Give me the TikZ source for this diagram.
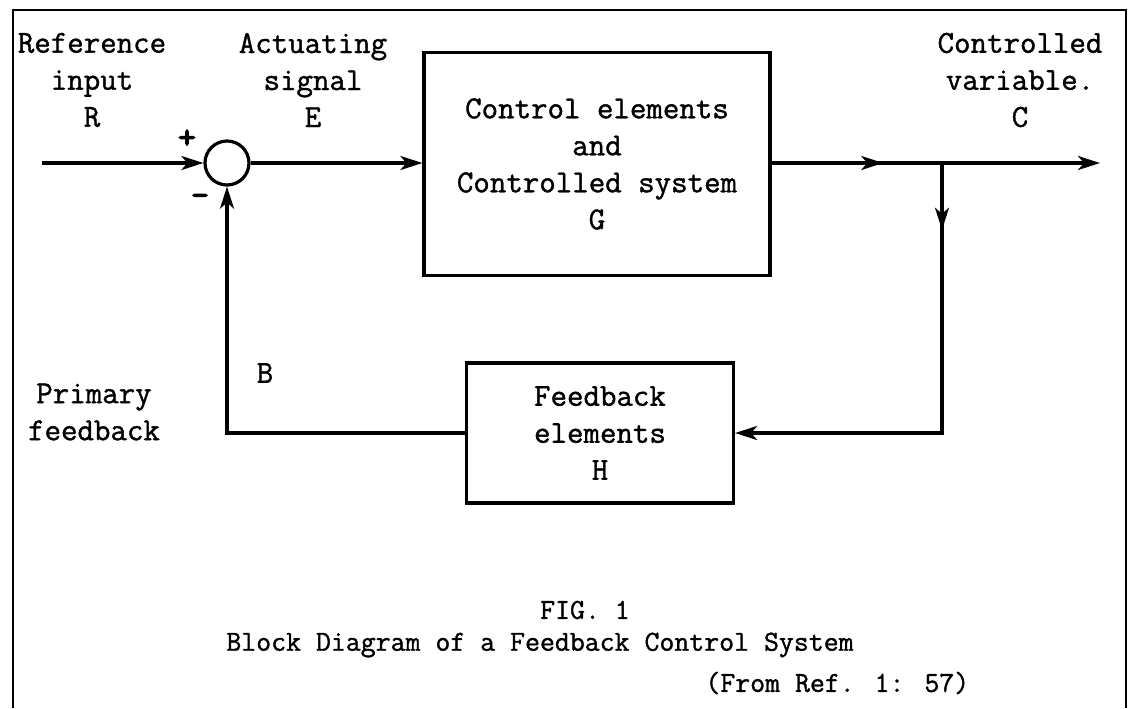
\documentclass[tikz,border=0pt]{standalone}
\usepackage{fontspec}
\newfontfamily\typew{Latin Modern Mono}[FakeBold=1.2]
\newfontfamily\typeheavy{Latin Modern Mono}[FakeBold=4]
\usetikzlibrary{arrows.meta, positioning, decorations.markings}

\begin{document}
\begin{tikzpicture}[x=0.5pt, y=-0.5pt,
    >={Stealth[length=11pt,width=7pt,inset=3pt]},
    every node/.style={font=\fontsize{16}{18.5}\selectfont\typew},
    blk/.style={draw, line width=1.6pt, align=center, inner sep=0pt},
    lbl/.style={align=center, inner sep=0pt},
    sign/.style={lbl, font=\fontsize{17}{18}\selectfont\typeheavy},
    captxt/.style={lbl, font=\fontsize{14.5}{17}\selectfont\typew},
    sig/.style={line width=1.6pt, ->},
    midarrow/.style={postaction={decorate},
      decoration={markings, mark=at position #1 with {\arrow{>}}}}]
  \useasboundingbox (0,0) rectangle (1130,708);
  \draw[line width=1.4pt] (13,708) -- (13,10) -- (1126,10) -- (1126,708);

  % loop
  \node[draw, circle, line width=1.6pt, minimum size=22pt, inner sep=0pt] (sum) at (227,163) {};
  \node[blk, minimum width=173pt, minimum height=111.5pt] (G) at (597,164)
    {Control elements\\and\\Controlled system\\G};
  \node[blk, minimum width=133.5pt, minimum height=70pt] (H) at (600,433)
    {Feedback\\elements\\H};
  \coordinate (in) at (42,163);
  \coordinate (out) at (1100,163);
  \coordinate (tap) at (942,163);
  \coordinate (turn) at (942,433);

  \draw[sig] (in) -- (sum);
  \draw[sig] (sum) -- (sum -| G.west);
  \draw[sig, midarrow=0.34] (sum -| G.east) -- (out);
  \draw[sig, midarrow=0.14] (tap) -- (turn) -- (H);
  \draw[sig] (H) -| (sum);

  % labels
  \node[lbl] (rlbl) at (92,80) {Reference\\input\\R};
  \node[lbl] (elbl) at (313,80) {Actuating\\signal\\E};
  \node[lbl] (clbl) at (1020,80) {Controlled\\variable.\\C};
  \node[sign] (plus) at (187,139) {+};
  \node[sign] (minus) at (200,200) {-};
  \node[lbl] (blbl) at (265,373) {B};
  \node[lbl] (pfb) at (94,412) {Primary\\feedback};

  % caption
  \node[captxt] (fig) at (585,610) {FIG. 1};
  \node[captxt] (title) at (540,645) {Block Diagram of a Feedback Control System};
  \node[captxt, anchor=west] (src) at (705,683) {(From Ref. 1: 57)};
\end{tikzpicture}
\end{document}
